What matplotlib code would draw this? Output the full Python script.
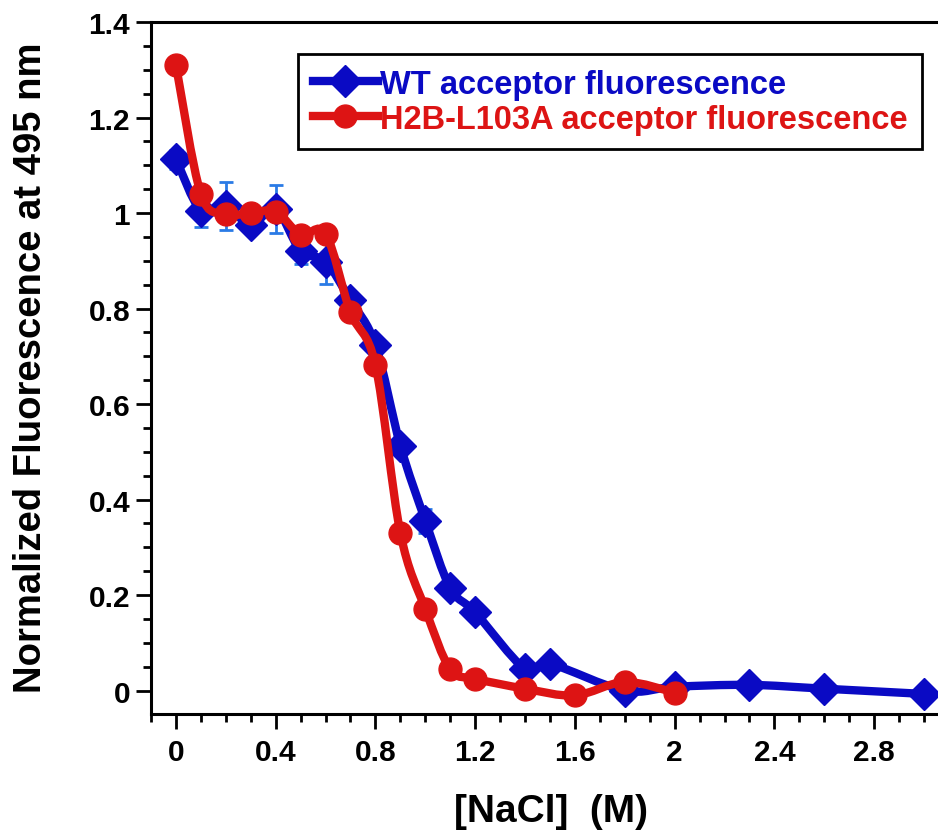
import numpy as np
import matplotlib
matplotlib.use("Agg")
import matplotlib.pyplot as plt
from matplotlib.path import Path
from matplotlib.patches import PathPatch
from matplotlib.lines import Line2D
from matplotlib.ticker import MultipleLocator, FuncFormatter

# ===============================
# DATA
# ===============================
wt_nacl = [0, 0.1, 0.2, 0.3, 0.4, 0.5, 0.6, 0.7, 0.8, 0.9, 1.0, 1.1, 1.2,
           1.4, 1.5, 1.8, 2.0, 2.3, 2.6, 3.0]
wt_fluor = [1.113, 1.005, 1.015, 0.975, 1.008, 0.921, 0.898, 0.817, 0.724,
            0.513, 0.356, 0.215, 0.164, 0.045, 0.056, 0.0, 0.008,
            0.012, 0.004, -0.007]
wt_err = [0.02, 0.035, 0.05, 0.015, 0.05, 0.028, 0.046, 0.012, 0.01,
          0.01, 0.025, 0.01, 0.01, 0.0, 0.0, 0.0, 0.0, 0.0, 0.0, 0.0]

mut_nacl = [0, 0.1, 0.2, 0.3, 0.4, 0.5, 0.6, 0.7, 0.8, 0.9, 1.0, 1.1, 1.2,
            1.4, 1.6, 1.8, 2.0]
mut_fluor = [1.310, 1.040, 0.998, 1.000, 1.003, 0.955, 0.957, 0.792, 0.682,
             0.330, 0.171, 0.045, 0.025, 0.004, -0.010, 0.018, -0.004]

wt_label = "WT acceptor fluorescence"
mut_label = "H2B-L103A acceptor fluorescence"
x_label = "[NaCl]  (M)"
y_label = "Normalized Fluorescence at 495 nm"

BLUE = "#0a0ac4"
RED = "#dd1414"
ERR_BLUE = "#2a7be6"

plt.rcParams["font.family"] = ["Liberation Sans", "DejaVu Sans"]
plt.rcParams["font.weight"] = "bold"


# smooth connecting curve (Catmull-Rom as cubic Bezier segments)
def smooth_path(xs, ys):
    pts = np.column_stack([xs, ys]).astype(float)
    ext = np.vstack([pts[0], pts, pts[-1]])
    verts = [pts[0]]
    codes = [Path.MOVETO]
    for i in range(1, len(ext) - 2):
        p0, p1, p2, p3 = ext[i - 1], ext[i], ext[i + 1], ext[i + 2]
        c1 = p1 + (p2 - p0) / 6.0
        c2 = p2 - (p3 - p1) / 6.0
        verts += [c1, c2, p2]
        codes += [Path.CURVE4] * 3
    return Path(verts, codes)


# ===============================
# FIGURE
# ===============================
fig = plt.figure(figsize=(9.38, 8.37), dpi=100)
ax = fig.add_axes([151 / 938, 1 - 715 / 837, 1 - 151 / 938, (715 - 23) / 837])

ax.errorbar(wt_nacl, wt_fluor, yerr=wt_err, fmt="none", ecolor=ERR_BLUE,
            elinewidth=2, capsize=5, capthick=2, zorder=1)

ax.add_patch(PathPatch(smooth_path(wt_nacl, wt_fluor), fill=False,
                       edgecolor=BLUE, lw=6, zorder=2, capstyle="round"))
ax.plot(wt_nacl, wt_fluor, ls="none", marker="D", ms=16, color=BLUE,
        mec=BLUE, zorder=3)

ax.add_patch(PathPatch(smooth_path(mut_nacl, mut_fluor), fill=False,
                       edgecolor=RED, lw=6, zorder=4, capstyle="round"))
ax.plot(mut_nacl, mut_fluor, ls="none", marker="o", ms=16.5, color=RED,
        mec=RED, zorder=5)

ax.set_xlim(-0.1, 3.056)
ax.set_ylim(-0.049, 1.4)

ax.xaxis.set_major_locator(MultipleLocator(0.4))
ax.xaxis.set_minor_locator(MultipleLocator(0.1))
ax.yaxis.set_major_locator(MultipleLocator(0.2))
ax.yaxis.set_minor_locator(MultipleLocator(0.05))
fmt = FuncFormatter(lambda v, p: "%g" % round(v, 2))
ax.xaxis.set_major_formatter(fmt)
ax.yaxis.set_major_formatter(fmt)

ax.tick_params(which="major", direction="out", length=11, width=2,
               labelsize=21.5, pad=4)
ax.tick_params(which="minor", direction="out", length=5.5, width=2)
ax.tick_params(axis="x", which="major", pad=6)
for lab in ax.get_xticklabels() + ax.get_yticklabels():
    lab.set_fontweight("bold")

for side in ["left", "bottom", "top"]:
    ax.spines[side].set_linewidth(2.2)
ax.spines["right"].set_visible(False)

fig.text(551 / 938, 1 - 812 / 837, x_label, ha="center", va="center",
         fontsize=28, fontweight="bold")
fig.text(31 / 938, 1 - 368 / 837, y_label, ha="center", va="center",
         rotation=90, fontsize=27.5, fontweight="bold")

# ===============================
# LEGEND
# ===============================
handles = [
    Line2D([], [], color=BLUE, lw=6, marker="D", ms=16),
    Line2D([], [], color=RED, lw=6, marker="o", ms=16.5),
]
leg = ax.legend(handles, [wt_label, mut_label], loc="upper left",
                bbox_to_anchor=((298 - 151) / 787, (715 - 55) / 692),
                fancybox=False, framealpha=1, edgecolor="black",
                prop={"size": 23.5, "weight": "bold"}, handlelength=2.0,
                handletextpad=0.05, labelspacing=0.12, borderpad=0.45,
                borderaxespad=0)
leg.get_frame().set_linewidth(2)
for txt, c in zip(leg.get_texts(), [BLUE, RED]):
    txt.set_color(c)

fig.savefig("out.png", dpi=100)
